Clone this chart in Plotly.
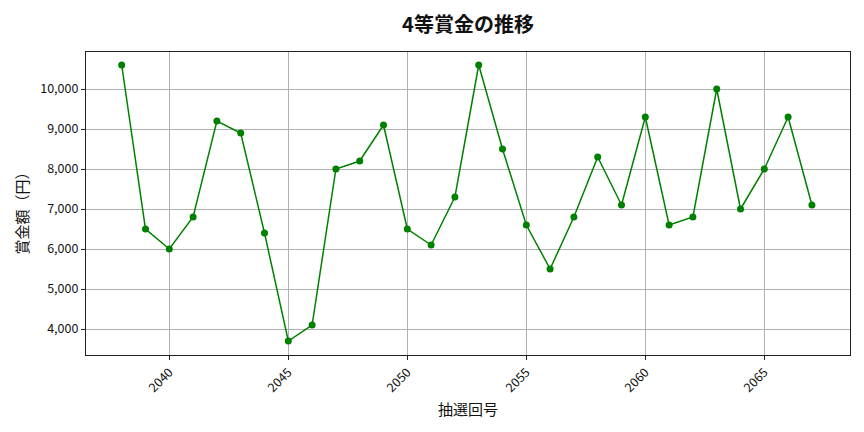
import plotly.graph_objects as go

# 抽選回号 and 4等賞金 (円)
draw_no = list(range(2038, 2068))
prize = [10600, 6500, 6000, 6800, 9200, 8900, 6400, 3700, 4100, 8000,
         8200, 9100, 6500, 6100, 7300, 10600, 8500, 6600, 5500, 6800,
         8300, 7100, 9300, 6600, 6800, 10000, 7000, 8000, 9300, 7100]

x_ticks = [2040, 2045, 2050, 2055, 2060, 2065]
y_ticks = [4000, 5000, 6000, 7000, 8000, 9000, 10000]

FONT = "Noto Sans CJK JP"

fig = go.Figure()
fig.add_trace(go.Scatter(
    x=draw_no, y=prize,
    mode="lines+markers",
    line=dict(color="green", width=1.5),
    marker=dict(color="green", size=7),
    showlegend=False,
))

axis_common = dict(
    showline=True, linecolor="#222", linewidth=1.2, mirror=True,
    showgrid=True, gridcolor="#b0b0b0", gridwidth=1,
    ticks="outside", ticklen=4, tickcolor="#222",
    zeroline=False, automargin=False,
    tickfont=dict(family=FONT, size=12.5, color="#111"),
)

# page body has an 8px margin, so margins are shifted to compensate
fig.update_layout(
    width=864, height=432,
    paper_bgcolor="white", plot_bgcolor="white",
    margin=dict(l=78, r=22, t=44, b=85),
    title=dict(text="<b>4等賞金の推移</b>", xref="paper", x=0.5, xanchor="center",
               y=0.96, yanchor="middle",
               font=dict(family=FONT, size=20, color="#111")),
    xaxis=dict(range=[2036.5, 2068.6], tickvals=x_ticks, tickangle=-45, **axis_common),
    yaxis=dict(range=[3350, 10925], tickvals=y_ticks, tickformat=",", **axis_common),
)

# axis titles as annotations so they sit where the original puts them
fig.add_annotation(text="抽選回号", xref="paper", yref="paper", x=0.5, y=-0.175,
                   xanchor="center", yanchor="middle", showarrow=False,
                   font=dict(family=FONT, size=15, color="#111"))
fig.add_annotation(text="賞金額（円）", xref="paper", yref="paper", x=-0.084, y=0.48,
                   xanchor="center", yanchor="middle", textangle=-90, showarrow=False,
                   font=dict(family=FONT, size=15, color="#111"))

fig.write_html("out.html")
